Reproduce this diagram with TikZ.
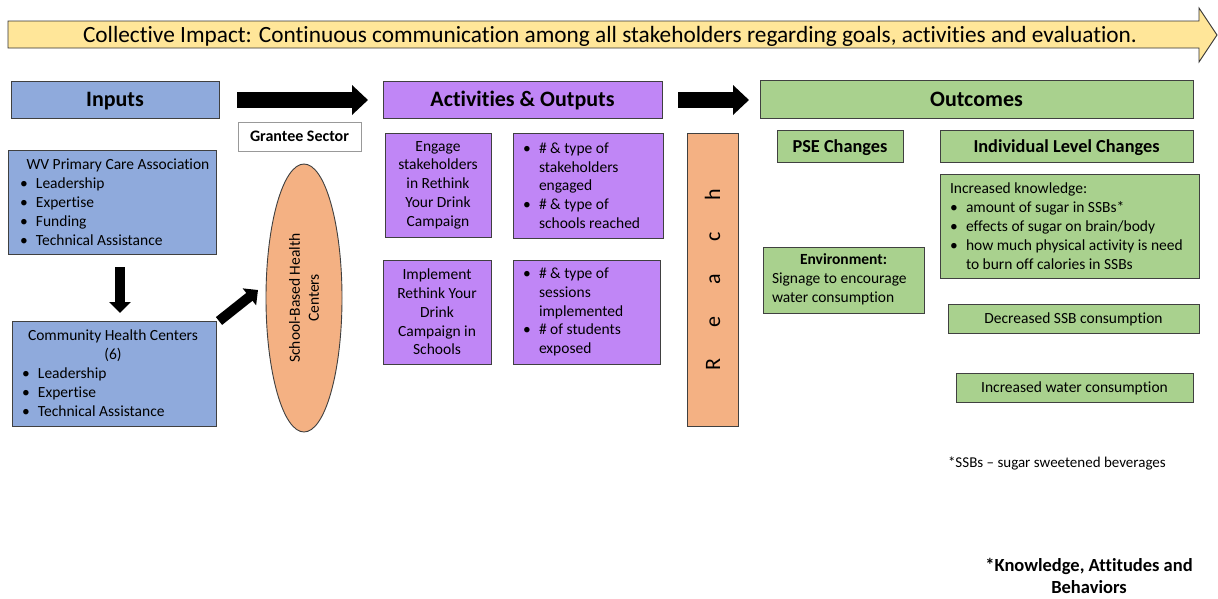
\documentclass[tikz,border=0pt]{standalone}
\usepackage{fontspec}
\setmainfont{Carlito}[Ligatures={TeX,NoCommon}]
\usetikzlibrary{shapes.geometric,arrows.meta}
\definecolor{cblue}{RGB}{143,170,220}
\definecolor{cpurple}{RGB}{192,134,246}
\definecolor{cgreen}{RGB}{169,209,142}
\definecolor{csalmon}{RGB}{244,177,131}
\definecolor{cyellow}{RGB}{255,230,153}
\newcommand\mybul{\makebox[16pt][l]{\textbullet}}
\newcommand\myind{\hspace*{16pt}}
\tikzset{
  bx/.style={draw=black!75, line width=0.9pt, inner sep=0pt, outer sep=0pt},
  body/.style={font=\fontsize{15.5}{19}\selectfont},
  bodyvc/.style={body, text height=12.4pt, text depth=2.4pt},
  head/.style={font=\fontsize{22}{26}\selectfont\bfseries, text height=17.6pt, text depth=3.4pt},
  subhead/.style={font=\fontsize{18.3}{22}\selectfont\bfseries, text height=14.6pt, text depth=2.9pt},
  txt/.style={inner sep=0pt, outer sep=0pt, body, align=left, anchor=west},
  fat/.style={line width=16pt, -{Triangle[length=16pt,width=29pt]}},
  slim/.style={line width=10pt, -{Triangle[length=11pt,width=21pt]}},
}
\begin{document}
\begin{tikzpicture}[x=1pt,y=-1pt]
\useasboundingbox[fill=white] (0,0) rectangle (1218,598);
% banner arrow
\draw[fill=cyellow, draw=black!80, line width=0.9pt] (8,21) -- (1199,21) -- (1199,8) -- (1217,35) -- (1199,62) -- (1199,48) -- (8,48) -- cycle;
\node[inner sep=0pt, font=\fontsize{23.3}{27}\selectfont, text height=18.6pt, text depth=3.6pt] (banner) at (610,35) {Collective Impact: Continuous communication among all stakeholders regarding goals, activities and evaluation.};
% header row
\node[bx, fill=cblue, minimum width=208pt, minimum height=37pt, head] (inputs) at (115,99.5) {Inputs};
\node[bx, fill=cpurple, minimum width=279pt, minimum height=37pt, head] (act) at (522.5,99.5) {Activities \& Outputs};
\node[bx, fill=cgreen, minimum width=433pt, minimum height=38pt, head] (outc) at (976.5,99) {Outcomes};
\coordinate (a1s) at (237,100);
\coordinate (a1e) at (368,100);
\coordinate (a2s) at (678,100);
\coordinate (a2e) at (749,100);
\draw[fat] (a1s) -- (a1e);
\draw[fat] (a2s) -- (a2e);
% inputs column
\node[bx, draw=black!40, fill=white, minimum width=123pt, minimum height=29pt, font=\fontsize{16}{19}\selectfont\bfseries, text height=12.8pt, text depth=2.5pt] (grantee) at (299.5,136.5) {Grantee Sector};
\node[bx, fill=cblue, minimum width=208pt, minimum height=104pt] (wv) at (112,202) {};
\node[txt] (wvt) at (20,202) {\makebox[196pt][c]{WV Primary Care Association}\\\mybul Leadership\\\mybul Expertise\\\mybul Funding\\\mybul Technical Assistance};
\node[bx, fill=cblue, minimum width=204pt, minimum height=105pt] (chc) at (114,373.5) {};
\node[txt] (chct) at (22,373.5) {\makebox[182pt][c]{Community Health Centers}\\\makebox[182pt][c]{(6)}\\\mybul Leadership\\\mybul Expertise\\\mybul Technical Assistance};
\coordinate (d1s) at (120,267);
\coordinate (d1e) at (120,313);
\draw[slim] (d1s) -- (d1e);
\coordinate (g1s) at (219,321);
\coordinate (g1e) at (258,290);
\draw[slim] (g1s) -- (g1e);
\node[bx, ellipse, fill=csalmon, rotate=90, minimum width=268pt, minimum height=76pt, align=center, body] (sbhc) at (304,298) {School-Based Health\\Centers};
% activities
\node[bx, fill=cpurple, minimum width=106pt, minimum height=104pt, align=center, font=\fontsize{15.5}{18.7}\selectfont] (engage) at (438,185) {Engage\\stakeholders\\in Rethink\\Your Drink\\Campaign};
\node[bx, fill=cpurple, minimum width=150pt, minimum height=105pt] (out1) at (588,185.5) {};
\node[txt, font=\fontsize{15.5}{18.7}\selectfont] (out1t) at (523,185.5) {\mybul\# \& type of\\\myind stakeholders\\\myind engaged\\\mybul\# \& type of\\\myind schools reached};
\node[bx, fill=cpurple, minimum width=108pt, minimum height=104pt, align=center, font=\fontsize{15.5}{18.7}\selectfont] (impl) at (437,312) {Implement\\Rethink Your\\Drink\\Campaign in\\Schools};
\node[bx, fill=cpurple, minimum width=147pt, minimum height=104pt] (out2) at (586.5,312) {};
\node[txt, font=\fontsize{15.5}{18.7}\selectfont] (out2t) at (523,312) {\mybul\# \& type of\\\myind sessions\\\myind implemented\\\mybul\# of students\\\myind exposed};
\node[bx, fill=csalmon, rotate=90, minimum width=293pt, minimum height=51pt, font=\fontsize{22}{24}\selectfont] (reach) at (712.5,279.5) {\makebox[42.5pt]{R}\makebox[42.5pt]{e}\makebox[42.5pt]{a}\makebox[42.5pt]{c}\makebox[42.5pt]{h}};
% outcomes
\node[bx, fill=cgreen, minimum width=126pt, minimum height=32pt, subhead] (pse) at (840,146.5) {PSE Changes};
\node[bx, fill=cgreen, minimum width=253pt, minimum height=32pt, subhead] (ind) at (1066.5,146.5) {Individual Level Changes};
\node[bx, fill=cgreen, minimum width=161pt, minimum height=66pt] (env) at (843.5,280) {};
\node[txt] (envt) at (772,279) {\makebox[143pt][c]{\textbf{Environment:}}\\Signage to encourage\\water consumption};
\node[bx, fill=cgreen, minimum width=259pt, minimum height=104pt] (know) at (1069.5,226.5) {};
\node[txt] (knowt) at (950,226.5) {Increased knowledge:\\\mybul amount of sugar in SSBs*\\\mybul effects of sugar on brain/body\\\mybul how much physical activity is need\\\myind to burn off calories in SSBs};
\node[bx, fill=cgreen, minimum width=251pt, minimum height=29pt, bodyvc] (dec) at (1073.5,318.5) {Decreased SSB consumption};
\node[bx, fill=cgreen, minimum width=237pt, minimum height=29pt, bodyvc] (water) at (1074.5,387.5) {Increased water consumption};
\node[txt, font=\fontsize{15}{17}\selectfont, text height=12pt, text depth=2.3pt] (foot) at (948,463) {*SSBs -- sugar sweetened beverages};
\node[inner sep=0pt, align=center, font=\fontsize{18.5}{22.5}\selectfont\bfseries] (kab) at (1089,576) {*Knowledge, Attitudes and\\Behaviors};
\end{tikzpicture}
\end{document}
